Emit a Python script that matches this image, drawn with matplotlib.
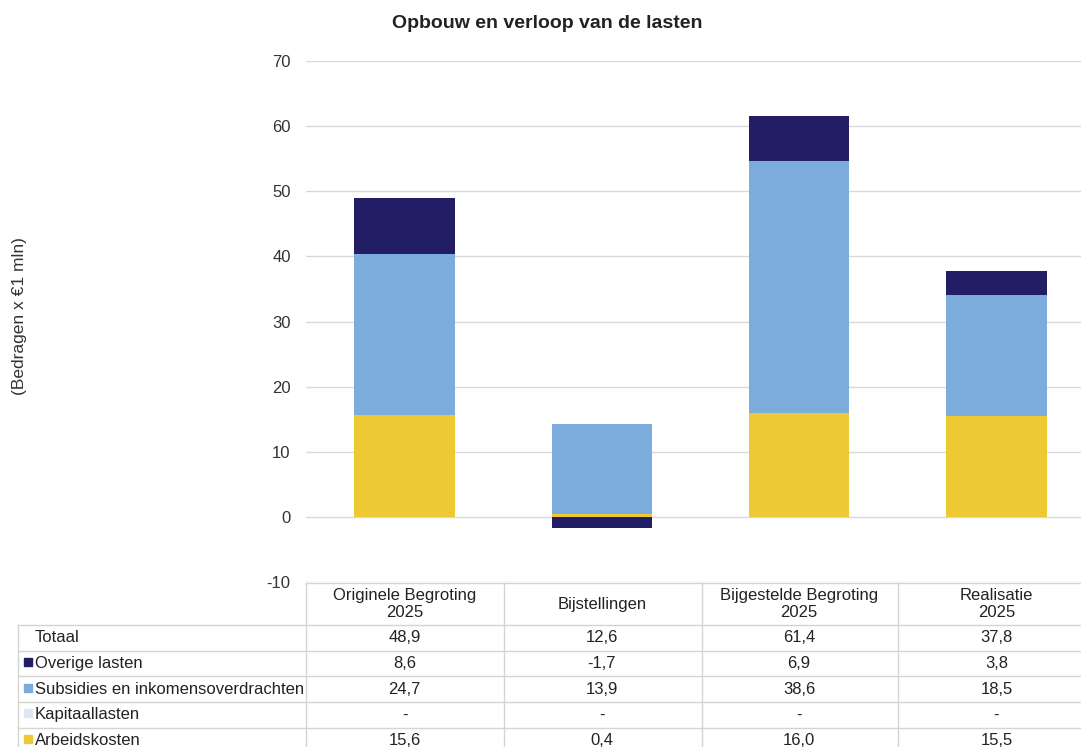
import matplotlib
matplotlib.use("Agg")
import matplotlib.pyplot as plt
import matplotlib.transforms as mtransforms
import numpy as np

plt.rcParams['font.family'] = ['Liberation Sans', 'DejaVu Sans']
plt.rcParams['axes.unicode_minus'] = False

categories = ["Originele Begroting\n2025", "Bijstellingen", "Bijgestelde Begroting\n2025", "Realisatie\n2025"]
series_names = ["Arbeidskosten", "Kapitaallasten", "Subsidies en inkomensoverdrachten", "Overige lasten"]
arbeidskosten = [15.6, 0.4, 16.0, 15.5]
kapitaallasten = [0.0, 0.0, 0.0, 0.0]
subsidies = [24.7, 13.9, 38.6, 18.5]
overige = [8.6, -1.7, 6.9, 3.8]
totaal = [48.9, 12.6, 61.4, 37.8]
colors = ["#EDCA33", "#DCE8F4", "#7BACDC", "#231D66"]

series = [arbeidskosten, kapitaallasten, subsidies, overige]

W, H = 1081, 747
fig = plt.figure(figsize=(W / 100, H / 100), dpi=100)

def fx(px):
    return px / W

def fy(py):
    return 1 - py / H

ax_left, ax_right = 306, 1095
ax_top, ax_bot = 61, 582
ax = fig.add_axes([fx(ax_left), fy(ax_bot), fx(ax_right - ax_left), fy(ax_top) - fy(ax_bot)])

x = np.arange(len(categories))
pos_bottom = np.zeros(len(categories))
neg_bottom = np.zeros(len(categories))
for vals, col in zip(series, colors):
    vals = np.array(vals, dtype=float)
    bottoms = np.where(vals >= 0, pos_bottom, neg_bottom)
    ax.bar(x, vals, bottom=bottoms, width=0.51, color=col, zorder=3, linewidth=0)
    pos_bottom += np.where(vals >= 0, vals, 0)
    neg_bottom += np.where(vals < 0, vals, 0)

ax.set_xlim(-0.5, len(categories) - 0.5)
ax.set_ylim(-10, 70)
ax.set_yticks(np.arange(-10, 71, 10))
ax.yaxis.grid(True, color="#D9D9D9", linewidth=1, zorder=0)
ax.set_xticks([])
for s in ax.spines.values():
    s.set_visible(False)
ax.tick_params(axis='y', length=0, labelsize=12, colors="#333333", pad=11)

fig.text(fx(547), fy(23), "Opbouw en verloop van de lasten", ha="center", va="center",
         fontsize=14, fontweight="bold", color="#222222")
fig.text(fx(20), fy(316), "(Bedragen x €1 mln)", rotation=90, ha="center", va="center",
         fontsize=12.5, color="#333333")

# Data table
line_col = "#D4D4D4"
trans = mtransforms.blended_transform_factory(ax.transData, fig.transFigure)
col_edges = [ax_left, 504, 702, 898, ax_right]
header_top, header_bot = 583, 625
row_h = 25.7
row_lines = [header_bot + i * row_h for i in range(6)]
label_left = 18

fig.add_artist(plt.Line2D([fx(ax_left), fx(ax_right)], [fy(header_top)] * 2, color=line_col, lw=1))
for yl in row_lines:
    fig.add_artist(plt.Line2D([fx(label_left), fx(ax_right)], [fy(yl)] * 2, color=line_col, lw=1))
for xe in col_edges:
    fig.add_artist(plt.Line2D([fx(xe)] * 2, [fy(header_top), fy(row_lines[-1])], color=line_col, lw=1))
fig.add_artist(plt.Line2D([fx(label_left)] * 2, [fy(header_bot), fy(row_lines[-1])], color=line_col, lw=1))

for i, cat in enumerate(categories):
    fig.text(i, fy((header_top + header_bot) / 2), cat, transform=trans,
             ha="center", va="center", fontsize=12, color="#222222", linespacing=1.12)

def fmt(v):
    if v == 0:
        return "-"
    return f"{v:.1f}".replace(".", ",")

row_labels = ["Totaal", "Overige lasten", "Subsidies en inkomensoverdrachten", "Kapitaallasten", "Arbeidskosten"]
row_values = [totaal, overige, subsidies, kapitaallasten, arbeidskosten]
row_colors = [None, colors[3], colors[2], colors[1], colors[0]]
for r, (lab, vals, col) in enumerate(zip(row_labels, row_values, row_colors)):
    yc = row_lines[r] + row_h / 2
    fig.text(fx(35), fy(yc), lab, ha="left", va="center", fontsize=12, color="#222222")
    if col is not None:
        fig.add_artist(plt.Rectangle((fx(24), fy(yc + 2.5)), fx(8), fy(0) - fy(8),
                                     color=col, transform=fig.transFigure))
    for i, v in enumerate(vals):
        fig.text(i, fy(yc), fmt(v), transform=trans, ha="center", va="center",
                 fontsize=12, color="#222222")

fig.savefig("out.png", dpi=100)
